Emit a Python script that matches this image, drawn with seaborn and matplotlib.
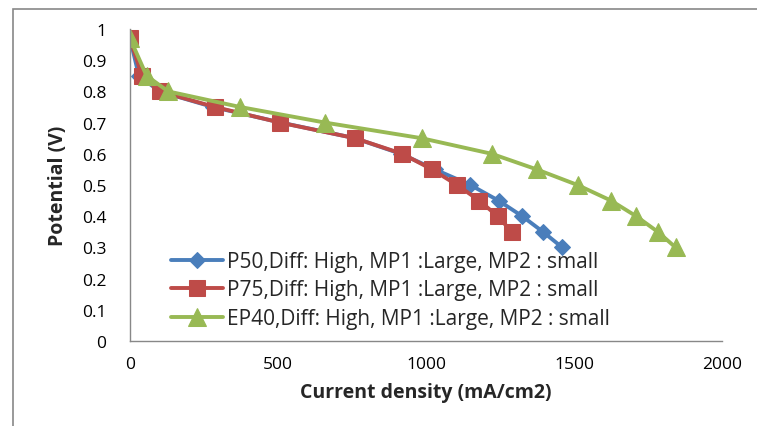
import matplotlib
matplotlib.use("Agg")
import matplotlib.pyplot as plt
import seaborn as sns
import pandas as pd
from matplotlib.patches import Rectangle

p50_x = [0, 30, 100, 280, 510, 760, 915, 1030, 1150, 1245, 1325, 1395, 1460]
p50_y = [0.97, 0.85, 0.80, 0.75, 0.70, 0.65, 0.60, 0.55, 0.50, 0.45, 0.40, 0.35, 0.30]
p75_x = [0, 40, 100, 287, 507, 760, 920, 1020, 1105, 1180, 1242, 1290]
p75_y = [0.97, 0.85, 0.80, 0.75, 0.70, 0.65, 0.60, 0.55, 0.50, 0.45, 0.40, 0.35]
ep40_x = [0, 56, 129, 372, 659, 985, 1222, 1374, 1512, 1625, 1710, 1783, 1843]
ep40_y = [0.97, 0.85, 0.80, 0.75, 0.70, 0.65, 0.60, 0.55, 0.50, 0.45, 0.40, 0.35, 0.30]

labels = ["P50,Diff: High, MP1 :Large, MP2 : small",
          "P75,Diff: High, MP1 :Large, MP2 : small",
          "EP40,Diff: High, MP1 :Large, MP2 : small"]
x_ticks = [0, 500, 1000, 1500, 2000]
y_ticks = [0, 0.1, 0.2, 0.3, 0.4, 0.5, 0.6, 0.7, 0.8, 0.9, 1]
y_tick_labels = ["0", "0.1", "0.2", "0.3", "0.4", "0.5", "0.6", "0.7", "0.8", "0.9", "1"]

sns.set_theme(style="white")
plt.rcParams['font.family'] = ['Open Sans', 'DejaVu Sans']

fig = plt.figure(figsize=(7.57, 4.27), dpi=100)
fig.patches.append(Rectangle((13/757, -0.1), 1.2, 1 - 10/427 + 0.1, transform=fig.transFigure,
                             fill=False, edgecolor="#888888", linewidth=1.2))
ax = fig.add_axes([130/757, 1 - 342/427, 592/757, 312/427])

series = [
    (p50_x, p50_y, labels[0], "#4A7EBB", "D", 8.5),
    (p75_x, p75_y, labels[1], "#BE4B48", "s", 11.5),
    (ep40_x, ep40_y, labels[2], "#98B954", "^", 12.5),
]
for xs, ys, lab, col, mk, ms in series:
    df = pd.DataFrame({"x": xs, "y": ys})
    sns.lineplot(data=df, x="x", y="y", ax=ax, color=col, linewidth=2.8, marker=mk,
                 markersize=ms, markeredgecolor=col, label=lab, sort=False)

ax.set_xlim(0, 2000)
ax.set_ylim(0, 1)
ax.set_xticks(x_ticks)
ax.set_xticklabels([str(t) for t in x_ticks])
ax.set_yticks(y_ticks)
ax.set_yticklabels(y_tick_labels)
for s in ["top", "right"]:
    ax.spines[s].set_visible(False)
for s in ["left", "bottom"]:
    ax.spines[s].set_color("#888888")
    ax.spines[s].set_linewidth(1.0)
ax.tick_params(axis="both", which="major", direction="out", length=6, width=1,
               color="#888888", labelsize=12.5, labelcolor="#000000", pad=5)
ax.tick_params(axis="y", length=7, pad=10)
ax.set_xlabel("Current density (mA/cm2)", fontsize=14, fontweight="bold", labelpad=7)
ax.set_ylabel("Potential (V)", fontsize=14, fontweight="bold", labelpad=10)

leg = ax.legend(loc="lower left", bbox_to_anchor=(0.056, 0.012), frameon=False,
                fontsize=15, handlelength=2.45, handletextpad=0.2, labelspacing=0.36,
                borderaxespad=0)

fig.savefig("out.png", dpi=100)
